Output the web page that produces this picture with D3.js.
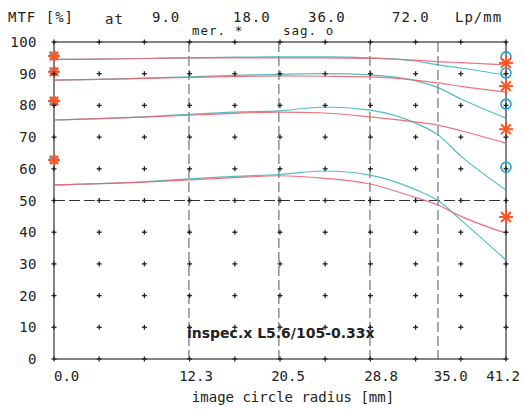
<!DOCTYPE html>
<html>
<head>
<meta charset="utf-8">
<script src="https://cdn.jsdelivr.net/npm/d3@7"></script>
<style>
  body { margin: 0; background: #fff; }
  text { font-family: "DejaVu Sans Mono", monospace; fill: #222; }
</style>
</head>
<body>
<svg id="vis"></svg>
<script>
// image circle radius (mm) where the curves were read
const radius = [0, 4.1, 8.2, 12.3, 16.4, 20.5, 24.7, 28.8, 32.9, 35.0, 37.1, 41.2]

// MTF % per frequency, meridional and sagittal
const mer9  = [94.5, 94.6, 94.8, 95.0, 95.0, 95.0, 95.0, 94.8, 94.3, 93.8, 93.5, 92.8]
const sag9  = [94.5, 94.6, 94.8, 95.0, 95.2, 95.3, 95.3, 95.0, 94.0, 92.8, 91.8, 89.5]
const mer18 = [88.0, 88.2, 88.5, 88.8, 89.1, 89.3, 89.2, 89.0, 88.0, 87.1, 86.0, 84.2]
const sag18 = [88.0, 88.2, 88.6, 89.0, 89.5, 89.8, 90.0, 89.6, 87.8, 85.6, 82.0, 76.0]
const mer36 = [75.4, 75.8, 76.3, 76.9, 77.5, 77.9, 77.6, 76.4, 74.8, 73.8, 72.0, 68.1]
const sag36 = [75.4, 75.8, 76.4, 77.2, 77.9, 78.3, 79.5, 78.5, 74.5, 70.7, 64.0, 53.3]
const mer72 = [54.9, 55.3, 55.8, 56.5, 57.2, 57.8, 57.0, 55.2, 51.0, 48.6, 45.0, 39.7]
const sag72 = [54.9, 55.3, 55.9, 56.8, 57.6, 58.2, 59.3, 58.0, 53.5, 50.0, 43.8, 31.2]

// marker values at the centre and at the edge
const centerMarks = [95.6, 90.6, 81.4, 62.8]
const edgeSag = [95.3, 90.2, 80.4, 60.5]
const edgeMer = [93.4, 86.1, 72.5, 44.8]

const gridX = d3.range(0, 11).map(i => i * 4.12)
const gridY = d3.range(0, 101, 10)
const dashX = [12.3, 20.5, 28.8, 35.0]
const xLabels = ['0.0', '12.3', '20.5', '28.8', '35.0', '41.2']
const freqs = ['9.0', '18.0', '36.0', '72.0']

const W = 526, H = 409
const merColor = '#ee6272', sagColor = '#33b5b2'
const starColor = '#ff5522', ringColor = '#1ea3d2'

const svg = d3.select('#vis').attr('width', W).attr('height', H)

const x = d3.scaleLinear().domain([0, 41.2]).range([54, 506])
const y = d3.scaleLinear().domain([0, 100]).range([359, 42])

// dashed reference lines
svg.selectAll('.vdash').data(dashX).enter().append('line')
    .attr('x1', d => x(d)).attr('x2', d => x(d))
    .attr('y1', y(100)).attr('y2', y(0))
    .attr('stroke', '#555').attr('stroke-width', 1).attr('stroke-dasharray', '10,4')
svg.append('line')
    .attr('x1', x(0)).attr('x2', x(41.2)).attr('y1', y(50)).attr('y2', y(50))
    .attr('stroke', '#333').attr('stroke-width', 1.1).attr('stroke-dasharray', '11,4')

// frame
svg.append('rect')
    .attr('x', x(0)).attr('y', y(100))
    .attr('width', x(41.2) - x(0)).attr('height', y(0) - y(100))
    .attr('fill', 'none').attr('stroke', '#333').attr('stroke-width', 1.2)

// curves
const line = d3.line()
    .x((d, i) => x(radius[i]))
    .y(d => y(d))
    .curve(d3.curveMonotoneX)

const sagSeries = [sag9, sag18, sag36, sag72]
const merSeries = [mer9, mer18, mer36, mer72]

svg.selectAll('.sag').data(sagSeries).enter().append('path')
    .attr('d', line).attr('fill', 'none')
    .attr('stroke', sagColor).attr('stroke-width', 1.2).attr('opacity', 0.85)
svg.selectAll('.mer').data(merSeries).enter().append('path')
    .attr('d', line).attr('fill', 'none')
    .attr('stroke', merColor).attr('stroke-width', 1.2).attr('opacity', 0.9)

// markers
function star(g, cx, cy, r) {
    const s = g.append('g').attr('transform', `translate(${cx},${cy})`)
    d3.range(4).forEach(k => {
        const a = k * Math.PI / 4
        s.append('line')
            .attr('x1', -r * Math.cos(a)).attr('y1', -r * Math.sin(a))
            .attr('x2', r * Math.cos(a)).attr('y2', r * Math.sin(a))
            .attr('stroke', starColor).attr('stroke-width', 2)
    })
}

const marks = svg.append('g')
centerMarks.forEach(v => {
    marks.append('circle').attr('cx', x(0)).attr('cy', y(v)).attr('r', 4)
        .attr('fill', 'none').attr('stroke', ringColor).attr('stroke-width', 1.4)
    star(marks, x(0), y(v), 6)
})
edgeSag.forEach(v => {
    marks.append('circle').attr('cx', x(41.2)).attr('cy', y(v)).attr('r', 5)
        .attr('fill', 'none').attr('stroke', ringColor).attr('stroke-width', 1.6)
})
edgeMer.forEach(v => star(marks, x(41.2), y(v), 7))

// grid crosses
const crosses = []
gridX.forEach(gx => gridY.forEach(gy => crosses.push([gx, gy])))
const cg = svg.append('g').attr('stroke', '#222').attr('stroke-width', 1.3)
crosses.forEach(([gx, gy]) => {
    cg.append('line').attr('x1', x(gx) - 2.5).attr('x2', x(gx) + 2.5).attr('y1', y(gy)).attr('y2', y(gy))
    cg.append('line').attr('x1', x(gx)).attr('x2', x(gx)).attr('y1', y(gy) - 2.5).attr('y2', y(gy) + 2.5)
})

// y labels
svg.selectAll('.ylab').data(gridY).enter().append('text')
    .attr('x', 37).attr('y', d => y(d)).attr('dy', '0.36em')
    .attr('text-anchor', 'end').attr('font-size', 14).attr('letter-spacing', 0.5)
    .text(d => d)

// x labels
svg.selectAll('.xlab').data(xLabels).enter().append('text')
    .attr('x', (d, i) => i === 0 ? x(0) : i === xLabels.length - 1 ? 520 : x(+d) + 4 + (+d) * 0.25)
    .attr('y', 381)
    .attr('text-anchor', (d, i) => i === 0 ? 'start' : i === xLabels.length - 1 ? 'end' : 'middle')
    .attr('font-size', 14)
    .text(d => d)

svg.append('text').attr('x', 293).attr('y', 402).attr('text-anchor', 'middle')
    .attr('font-size', 14).text('image circle radius [mm]')

// header
const head = svg.append('g').attr('font-size', 14).attr('letter-spacing', 1)
head.append('text').attr('x', 8).attr('y', 22).text('MTF [%]')
head.append('text').attr('x', 105).attr('y', 24).text('at')
const freqX = [152, 233, 308, 392]
freqs.forEach((f, i) => head.append('text').attr('x', freqX[i]).attr('y', 22).text(f))
head.append('text').attr('x', 455).attr('y', 22).text('Lp/mm')
svg.append('text').attr('x', 192).attr('y', 35).attr('font-size', 12.5).attr('letter-spacing', 1).text('mer. *')
svg.append('text').attr('x', 283).attr('y', 35).attr('font-size', 12.5).attr('letter-spacing', 1).text('sag. o')

// watermark
svg.append('text').attr('x', 187).attr('y', 338)
    .style('font-family', '"DejaVu Sans", sans-serif').attr('font-weight', 'bold')
    .attr('font-size', 14).attr('fill', '#222')
    .text('inspec.x L5.6/105-0.33x')
</script>
</body>
</html>
